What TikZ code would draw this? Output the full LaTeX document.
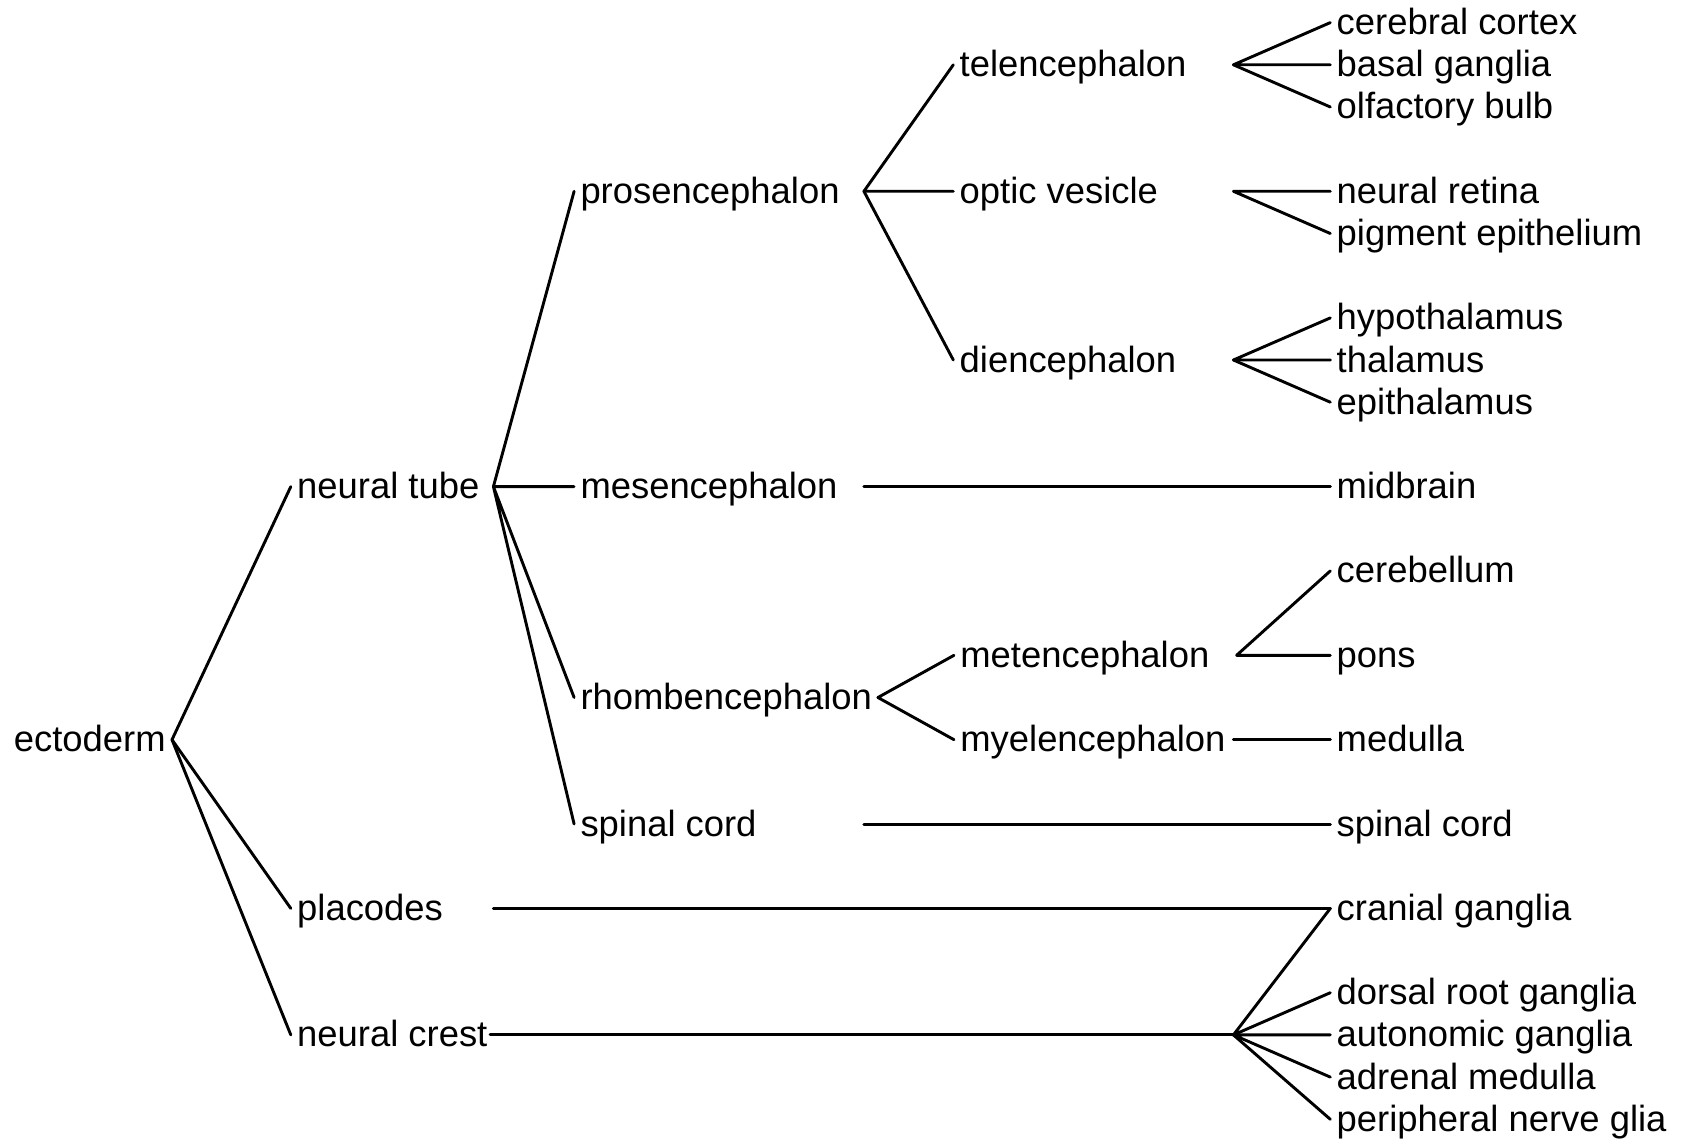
\documentclass[tikz,border=0pt]{standalone}
\usepackage{fontspec}
\setmainfont{Liberation Sans}
\begin{document}
\begin{tikzpicture}[x=0.5pt,y=-0.5pt,
  lbl/.style={anchor=west,inner xsep=3pt,inner ysep=0pt,text height=15pt,text depth=3pt,font=\fontsize{18.2}{22}\selectfont},
  lblr/.style={lbl,anchor=east},
  conn/.style={line width=1.45pt,line cap=round,line join=round}]
\useasboundingbox[fill=white] (0,0) rectangle (1689,1139);
% level 0
\node[lblr] (ecto) at (172,739.7) {ectoderm};
% level 1
\node[lbl] (ntube) at (290.8,486.6) {neural tube};
\node[lbl] (plac) at (290.8,908.4) {placodes};
\node[lbl] (ncrest) at (290.8,1034.9) {neural crest};
% level 2
\node[lbl] (pros) at (574.1,191.3) {prosencephalon};
\node[lbl] (mes) at (574.1,486.6) {mesencephalon};
\node[lbl] (rhomb) at (574.1,697.5) {rhombencephalon};
\node[lbl] (spin) at (574.1,824.0) {spinal cord};
% level 3
\node[lbl] (tel) at (953.3,64.8) {telencephalon};
\node[lbl] (opt) at (953.3,191.3) {optic vesicle};
\node[lbl] (dien) at (953.3,360.0) {diencephalon};
\node[lbl] (met) at (954,655.3) {metencephalon};
\node[lbl] (myel) at (954,739.7) {myelencephalon};
% level 4
\node[lbl] (cortex) at (1330.3,22.6) {cerebral cortex};
\node[lbl] (basal) at (1330.3,64.8) {basal ganglia};
\node[lbl] (olf) at (1330.3,107.0) {olfactory bulb};
\node[lbl] (retina) at (1330.3,191.3) {neural retina};
\node[lbl] (pigm) at (1330.3,233.5) {pigment epithelium};
\node[lbl] (hypo) at (1330.3,317.9) {hypothalamus};
\node[lbl] (thal) at (1330.3,360.0) {thalamus};
\node[lbl] (epi) at (1330.3,402.2) {epithalamus};
\node[lbl] (midb) at (1330.3,486.6) {midbrain};
\node[lbl] (cereb) at (1330.3,570.9) {cerebellum};
\node[lbl] (pons) at (1330.3,655.3) {pons};
\node[lbl] (medul) at (1330.3,739.7) {medulla};
\node[lbl] (spin2) at (1330.3,824.4) {spinal cord};
\node[lbl] (cran) at (1330.3,908.4) {cranial ganglia};
\node[lbl] (drg) at (1330.3,992.7) {dorsal root ganglia};
\node[lbl] (auto) at (1330.3,1034.9) {autonomic ganglia};
\node[lbl] (adren) at (1330.3,1077.1) {adrenal medulla};
\node[lbl] (periph) at (1330.3,1119.3) {peripheral nerve glia};
% branch points
\coordinate (pNT) at (493.4,486.6);
\coordinate (pPl) at (493.4,908.4);
\coordinate (pNCs) at (490.0,1034.9);
\coordinate (pNC) at (1233.4,1034.9);
\coordinate (pPro) at (863.9,191.3);
\coordinate (pMes) at (863.9,486.6);
\coordinate (pRh) at (877.9,697.5);
\coordinate (pSp) at (863.9,824.4);
\coordinate (pTel) at (1233.4,64.8);
\coordinate (pOpt) at (1233.4,191.3);
\coordinate (pDien) at (1233.4,360.0);
\coordinate (pMet) at (1236.6,655.3);
\coordinate (pMyel) at (1233.4,739.7);
% connectors
\draw[conn] (ntube.west) -- (ecto.east) -- (plac.west);
\draw[conn] (ecto.east) -- (ncrest.west);
\draw[conn] (pros.west) -- (pNT) -- (mes.west);
\draw[conn] (rhomb.west) -- (pNT) -- (spin.west);
\draw[conn] (tel.west) -- (pPro) -- (opt.west);
\draw[conn] (pPro) -- (dien.west);
\draw[conn] (pMes) -- (midb.west);
\draw[conn] (met.west) -- (pRh) -- (myel.west);
\draw[conn] (pSp) -- (spin2.west);
\draw[conn] (pPl) -- (cran.west);
\draw[conn] (pNCs) -- (pNC);
\draw[conn] (cran.west) -- (pNC) -- (drg.west);
\draw[conn] (auto.west) -- (pNC) -- (adren.west);
\draw[conn] (pNC) -- (periph.west);
\draw[conn] (cortex.west) -- (pTel) -- (basal.west);
\draw[conn] (pTel) -- (olf.west);
\draw[conn] (retina.west) -- (pOpt) -- (pigm.west);
\draw[conn] (hypo.west) -- (pDien) -- (thal.west);
\draw[conn] (pDien) -- (epi.west);
\draw[conn] (cereb.west) -- (pMet) -- (pons.west);
\draw[conn] (pMyel) -- (medul.west);
\end{tikzpicture}
\end{document}
